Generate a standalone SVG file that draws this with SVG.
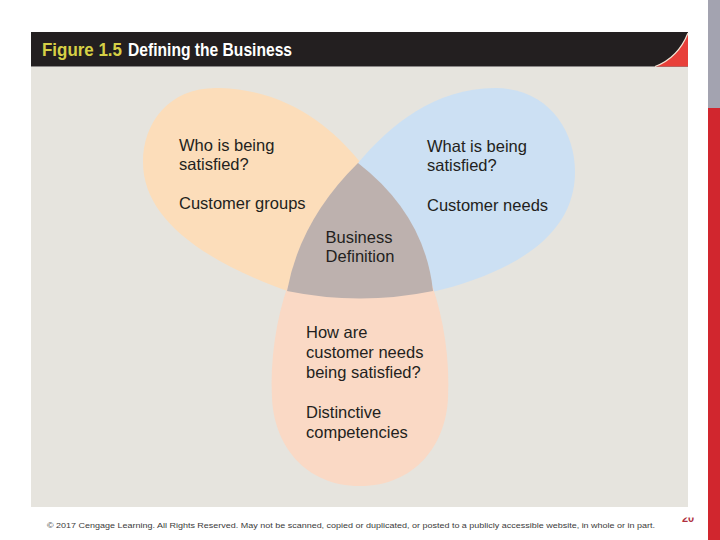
<svg xmlns="http://www.w3.org/2000/svg" width="720" height="540" viewBox="0 0 720 540">
  <defs>
    <style>
      .lbl { font-family: "Liberation Sans", Arial, sans-serif; font-size: 16.5px; fill: #231F20; }
      .title { font-family: "Liberation Sans", Arial, sans-serif; font-size: 18.5px; font-weight: bold; }
      .foot { font-family: "Liberation Sans", Arial, sans-serif; font-size: 8px; fill: #3a3a3a; }
    </style>
    <clipPath id="numclip"><rect x="670" y="517.5" width="40" height="20"/></clipPath>
  </defs>
  <rect x="0" y="0" width="720" height="540" fill="#FFFFFF"/>
  <!-- side strip -->
  <rect x="708" y="0" width="12" height="108" fill="#A3A3B0"/>
  <rect x="708" y="108" width="12" height="432" fill="#D1262E"/>
  <!-- panel -->
  <rect x="31" y="66.5" width="657" height="440.5" fill="#E6E4DE"/>
  <g id="header">
    <rect x="31" y="32" width="657" height="34.5" fill="#231F20"/>
    <path d="M 655 66.5 Q 678 58 688 33 L 688 66.5 Z" fill="#E8403A"/>
    <path d="M 655 66.5 Q 678 58 688 33" fill="none" stroke="#F3E6D6" stroke-width="1.2"/>
    <text class="title" x="42" y="56" fill="#D6D046" textLength="80" lengthAdjust="spacingAndGlyphs">Figure 1.5</text>
    <text class="title" x="128" y="56" fill="#FFFFFF" textLength="164" lengthAdjust="spacingAndGlyphs">Defining the Business</text>
  </g>
  <g id="who">
    <path d="M 360 162 C 330 125 285 90 220 88 C 170 86 143 122 143 162 C 143 215 195 258 290 292 L 330 240 Z" fill="#FCDDBA"/>
    <text class="lbl" x="179" y="151">Who is being</text>
    <text class="lbl" x="179" y="170">satisfied?</text>
    <text class="lbl" x="179" y="209">Customer groups</text>
  </g>
  <g id="what">
    <path d="M 358 163 C 390 125 435 88 495 88 C 548 88 575 130 575 172 C 575 235 515 272 432 292 L 390 240 Z" fill="#CCE0F3"/>
    <text class="lbl" x="427" y="151.5">What is being</text>
    <text class="lbl" x="427" y="171">satisfied?</text>
    <text class="lbl" x="427" y="211">Customer needs</text>
  </g>
  <g id="how">
    <path d="M 288 285 C 276 320 270 360 272 398 C 274 445 305 486 360 486 C 415 486 446 445 448 398 C 450 360 444 320 432 285 Z" fill="#FAD9C5"/>
    <text class="lbl" x="306" y="338">How are</text>
    <text class="lbl" x="306" y="357.5">customer needs</text>
    <text class="lbl" x="306" y="377.5">being satisfied?</text>
    <text class="lbl" x="306" y="418">Distinctive</text>
    <text class="lbl" x="306" y="437.5">competencies</text>
  </g>
  <g id="business-definition">
    <path d="M 358 163 Q 300 220 287 291 Q 360 306 433 291 Q 425 215 358 163 Z" fill="#BDB1AE"/>
    <text class="lbl" x="359" y="243" text-anchor="middle">Business</text>
    <text class="lbl" x="360" y="262" text-anchor="middle">Definition</text>
  </g>
  <g id="connectors"/>
  <text class="foot" x="47" y="527.5" textLength="608" lengthAdjust="spacingAndGlyphs">© 2017 Cengage Learning. All Rights Reserved. May not be scanned, copied or duplicated, or posted to a publicly accessible website, in whole or in part.</text>
  <text x="688" y="522" clip-path="url(#numclip)" font-family="Liberation Sans, Arial, sans-serif" font-size="11" font-weight="bold" fill="#B03040" text-anchor="middle">20</text>
</svg>
